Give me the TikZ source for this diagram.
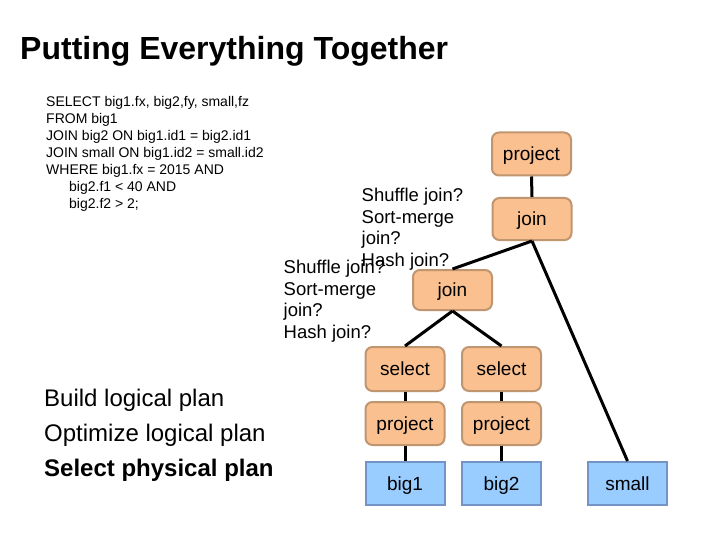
\documentclass[tikz,border=0pt]{standalone}
\usepackage{fontspec}
\setmainfont{Liberation Sans}
\definecolor{opfill}{HTML}{FAC090}
\definecolor{opdraw}{HTML}{BF9670}
\definecolor{tbfill}{HTML}{99CCFF}
\definecolor{tbdraw}{HTML}{7394C4}
\tikzset{
  opbox/.style={draw=opdraw, fill=opfill, line width=2pt, rounded corners=7pt,
    minimum width=79pt, minimum height=43pt, inner sep=0pt,
    text height=15.5pt, text depth=2pt,
    font=\fontsize{19}{21}\selectfont},
  tblbox/.style={draw=tbdraw, fill=tbfill, line width=2pt,
    minimum width=79pt, minimum height=43pt, inner sep=0pt,
    text height=15.5pt, text depth=2pt,
    font=\fontsize{19}{21}\selectfont},
  conn/.style={line width=3pt, black},
  sqltext/.style={anchor=north west, inner sep=0pt, align=left,
    font=\fontsize{14}{16.9}\selectfont},
  labtext/.style={anchor=north west, inner sep=0pt, align=left,
    font=\fontsize{18.5}{21.5}\selectfont},
  steptext/.style={anchor=north west, inner sep=0pt, align=left,
    font=\fontsize{24}{35}\selectfont},
}
\begin{document}
\begin{tikzpicture}[x=1pt,y=-1pt]
\useasboundingbox[fill=white] (0,0) rectangle (720,540);

\node[anchor=base west, inner sep=0pt, font=\fontsize{32}{36}\selectfont\bfseries] (title) at (20,60) {Putting Everything Together};

\node[sqltext] (sql) at (46,96.5) {SELECT big1.fx, big2,fy, small,fz\\
FROM big1\\
JOIN big2 ON big1.id1 = big2.id1\\
JOIN small ON big1.id2 = small.id2\\
WHERE big1.fx = 2015 AND\\
\hspace*{23pt}big2.f1 < 40 AND\\
\hspace*{23pt}big2.f2 > 2;};

\node[steptext] (steps) at (44,389) {Build logical plan\\
Optimize logical plan\\
\textbf{Select physical plan}};

% operator tree
\node[opbox] (p0) at (531.5,154) {project};
\node[opbox, minimum height=42pt] (j1) at (532,219) {join};
\node[opbox, minimum height=40pt] (j2) at (452.5,290) {join};
\node[opbox, minimum height=44pt] (s1) at (405,369) {select};
\node[opbox, minimum height=44pt] (s2) at (501.5,369) {select};
\node[opbox] (pr1) at (405,423.5) {project};
\node[opbox] (pr2) at (501.5,423.5) {project};
\node[tblbox] (b1) at (405,483.5) {big1};
\node[tblbox] (b2) at (501.5,483.5) {big2};
\node[tblbox] (sm) at (627.5,483.5) {small};

\draw[conn] (p0.south) -- (j1.north);
\draw[conn] (j1.south) -- (j2.north);
\draw[conn] (j1.south) -- (sm.north);
\draw[conn] (j2.south) -- (s1.north);
\draw[conn] (j2.south) -- (s2.north);
\draw[conn] (s1.south) -- (pr1.north);
\draw[conn] (pr1.south) -- (b1.north);
\draw[conn] (s2.south) -- (pr2.north);
\draw[conn] (pr2.south) -- (b2.north);

\node[labtext] (lab1) at (361.5,188) {Shuffle join?\\Sort-merge\\join?\\Hash join?};
\node[labtext] (lab2) at (283.5,260) {Shuffle join?\\Sort-merge\\join?\\Hash join?};
\end{tikzpicture}
\end{document}
